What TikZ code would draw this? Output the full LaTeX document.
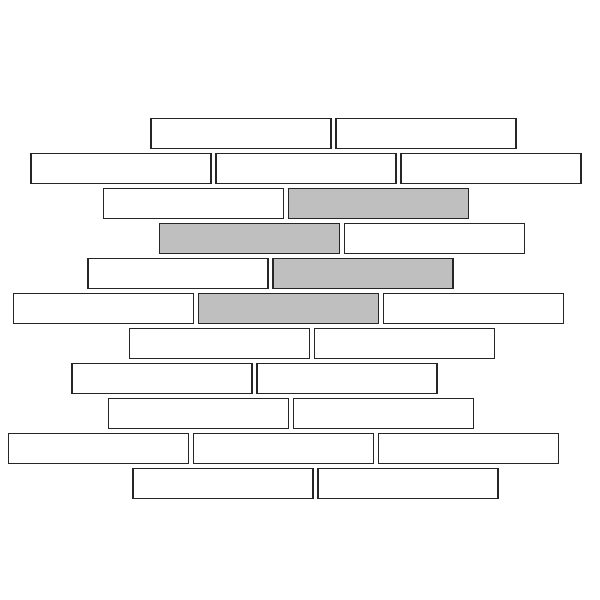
\documentclass[tikz,border=0pt]{standalone}
\begin{document}
\begin{tikzpicture}[x=1pt,y=-1pt,
  brick/.style={draw=black!85,line width=1.1pt,fill=white},
  graybrick/.style={brick,fill=black!25}]
\useasboundingbox (0,0) rectangle (600,600);
\newcommand{\brk}[3][brick]{\draw[#1] (#2,#3) rectangle ++(180,30);}
% row 1
\brk{151}{118.5}\brk{336}{118.5}
% row 2
\brk{31}{153.5}\brk{216}{153.5}\brk{401}{153.5}
% row 3
\brk{103.5}{188.5}\brk[graybrick]{288.5}{188.5}
% row 4
\brk[graybrick]{159.5}{223.5}\brk{344.5}{223.5}
% row 5
\brk{88}{258.5}\brk[graybrick]{273}{258.5}
% row 6
\brk{13.5}{293.5}\brk[graybrick]{198.5}{293.5}\brk{383.5}{293.5}
% row 7
\brk{129.5}{328.5}\brk{314.5}{328.5}
% row 8
\brk{72}{363.5}\brk{257}{363.5}
% row 9
\brk{108.5}{398.5}\brk{293.5}{398.5}
% row 10
\brk{8.5}{433.5}\brk{193.5}{433.5}\brk{378.5}{433.5}
% row 11
\brk{133}{468.5}\brk{318}{468.5}
\end{tikzpicture}
\end{document}
